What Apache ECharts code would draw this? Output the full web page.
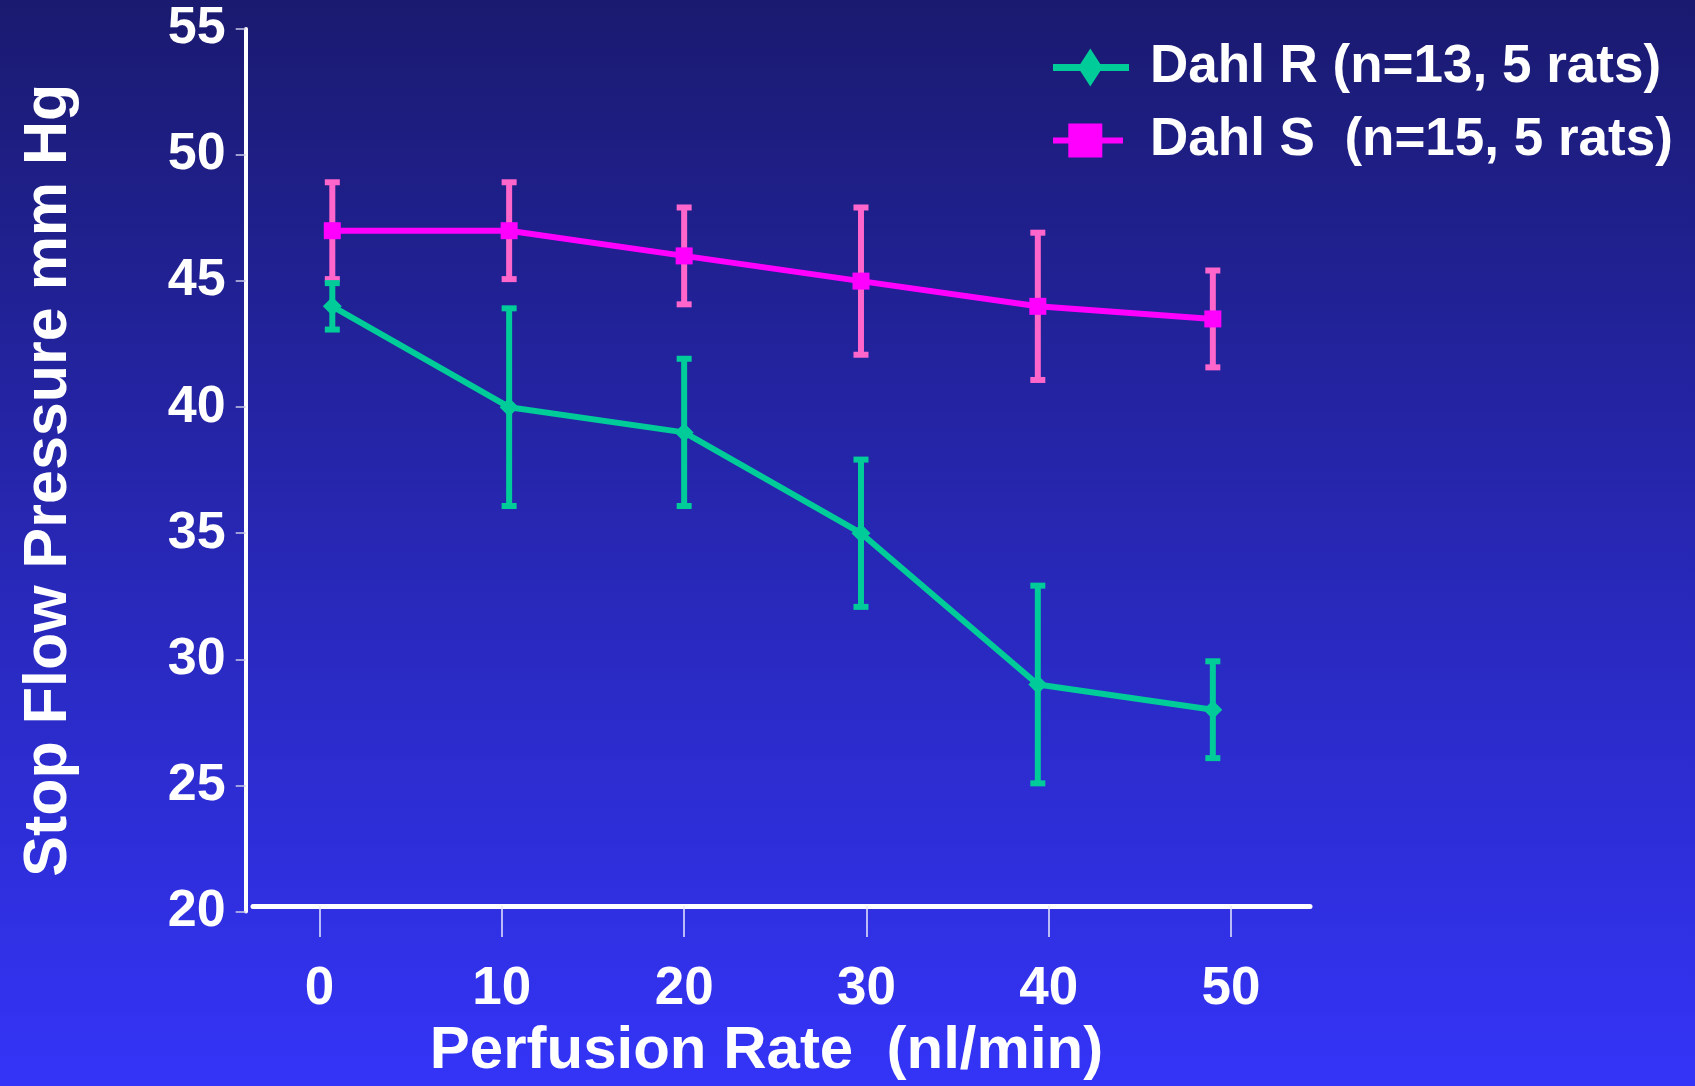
<!DOCTYPE html>
<html>
<head>
<meta charset="utf-8">
<title>Stop Flow Pressure</title>
<script src="https://cdn.jsdelivr.net/npm/echarts@6/dist/echarts.min.js"></script>
<style>
  html, body { margin: 0; padding: 0; }
  #main { width: 1695px; height: 1086px; }
</style>
</head>
<body>
<div id="main"></div>
<script>
// perfusion rate (nl/min) at each measurement
const perfusionRate = [0.7, 10.4, 20, 29.7, 39.4, 49];
const xTicks = [0, 10, 20, 30, 40, 50];

// Dahl R (n=13, 5 rats)
const dahlR = [44, 40, 39, 35, 29, 28];
const dahlRLow = [43, 36, 36, 32, 25, 26];
const dahlRHigh = [45, 44, 42, 38, 33, 30];

// Dahl S (n=15, 5 rats)
const dahlS = [47, 47, 46, 45, 44, 43.5];
const dahlSLow = [45, 45, 44, 42, 41, 41.5];
const dahlSHigh = [49, 49, 48, 48, 47, 45.5];

const nameR = 'Dahl R (n=13, 5 rats)';
const nameS = 'Dahl S  (n=15, 5 rats)';
const green = '#00cc99';
const magenta = '#ff00ff';
const pink = '#ff66cc';
const font = "'Liberation Sans', Arial, sans-serif";

function pairs(ys) {
    return ys.map((y, i) => [perfusionRate[i], y]);
}
function bars(lo, hi) {
    return lo.map((l, i) => [perfusionRate[i], l, hi[i]]);
}

function errorBar(color) {
    return function (params, api) {
        let x = api.value(0);
        let lo = api.coord([x, api.value(1)]);
        let hi = api.coord([x, api.value(2)]);
        let st = { stroke: color, lineWidth: 6 };
        return {
            type: 'group',
            children: [
                { type: 'line', shape: { x1: lo[0], y1: lo[1], x2: hi[0], y2: hi[1] }, style: st },
                { type: 'line', shape: { x1: hi[0] - 7.5, y1: hi[1] + 2, x2: hi[0] + 7.5, y2: hi[1] + 2 }, style: st },
                { type: 'line', shape: { x1: lo[0] - 7.5, y1: lo[1] - 2, x2: lo[0] + 7.5, y2: lo[1] - 2 }, style: st }
            ]
        };
    };
}

let chart = echarts.init(document.getElementById('main'));
let option = {
    animation: false,
    backgroundColor: {
        type: 'linear', x: 0, y: 0, x2: 0, y2: 1,
        colorStops: [
            { offset: 0, color: '#1a1a70' },
            { offset: 1, color: '#3434f8' }
        ]
    },
    grid: { left: 253, right: 385, top: 29, bottom: 174.3 },
    legend: {
        orient: 'vertical',
        left: 1053,
        top: 41,
        padding: 0,
        itemWidth: 92,
        itemHeight: 38,
        itemGap: 20,
        itemStyle: { borderWidth: 0 },
        textStyle: { color: '#fff', fontSize: 53, fontWeight: 'bold', fontFamily: font },
        data: [
            { name: nameR, icon: 'path://M0,0M92,38M0,15.5L27.3,15.5L37.3,0L47.3,15.5L76,15.5L76,22.5L47.3,22.5L37.3,38L27.3,22.5L0,22.5Z' },
            { name: nameS, icon: 'path://M0,0M92,38M0,16L15.3,16L15.3,2L49.3,2L49.3,16L70,16L70,22L49.3,22L49.3,36L15.3,36L15.3,22L0,22Z' }
        ]
    },
    xAxis: {
        type: 'value',
        min: -3.65,
        max: 54.33,
        offset: -5.4,
        name: 'Perfusion Rate  (nl/min)',
        nameLocation: 'middle',
        nameGap: 115,
        nameTextStyle: { color: '#fff', fontSize: 60, fontWeight: 'bold', fontFamily: font, padding: [0, 30, 0, 0] },
        axisLine: { show: true, onZero: false, lineStyle: { color: '#fff', width: 5 } },
        axisTick: { show: true, customValues: xTicks, length: 31, lineStyle: { color: '#e8e8ff', width: 1.5 } },
        axisLabel: { customValues: xTicks, margin: 57, color: '#fff', fontSize: 53, fontWeight: 'bold', fontFamily: font },
        splitLine: { show: false }
    },
    yAxis: {
        type: 'value',
        min: 20,
        max: 55,
        interval: 5,
        offset: 7.3,
        name: 'Stop Flow Pressure mm Hg',
        nameLocation: 'middle',
        nameGap: 166,
        nameTextStyle: { color: '#fff', fontSize: 61, fontWeight: 'bold', fontFamily: font, padding: [0, 20, 0, 0] },
        axisLine: { show: true, onZero: false, lineStyle: { color: '#fff', width: 4 } },
        axisTick: { show: true, length: 10, lineStyle: { color: '#c8c8e8', width: 1.5 } },
        axisLabel: { margin: 20, color: '#fff', fontSize: 52, fontWeight: 'bold', fontFamily: font },
        splitLine: { show: false }
    },
    series: [
        {
            name: 'Dahl S error',
            type: 'custom',
            renderItem: errorBar(pink),
            encode: { x: 0, y: [1, 2] },
            data: bars(dahlSLow, dahlSHigh),
            z: 1
        },
        {
            name: 'Dahl R error',
            type: 'custom',
            renderItem: errorBar(green),
            encode: { x: 0, y: [1, 2] },
            data: bars(dahlRLow, dahlRHigh),
            z: 1
        },
        {
            name: nameS,
            type: 'line',
            data: pairs(dahlS),
            color: magenta,
            symbol: 'rect',
            symbolSize: 17,
            lineStyle: { color: magenta, width: 6 },
            itemStyle: { color: magenta },
            z: 3
        },
        {
            name: nameR,
            type: 'line',
            data: pairs(dahlR),
            color: green,
            symbol: 'diamond',
            symbolSize: 19,
            lineStyle: { color: green, width: 6 },
            itemStyle: { color: green },
            z: 3
        }
    ]
};
chart.setOption(option);
</script>
</body>
</html>
